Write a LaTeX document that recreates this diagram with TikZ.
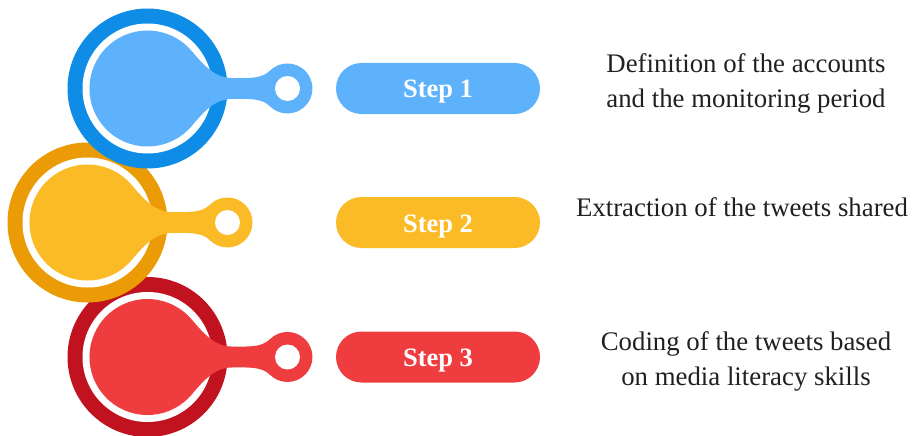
\documentclass[tikz,border=0pt]{standalone}
\usepackage{fontspec}
\setmainfont{Liberation Serif}
\definecolor{bluedark}{HTML}{0E8CE6}
\definecolor{bluelight}{HTML}{5EB2FB}
\definecolor{yellowdark}{HTML}{EB9B05}
\definecolor{yellowlight}{HTML}{FBBB26}
\definecolor{reddark}{HTML}{C1121F}
\definecolor{redlight}{HTML}{EE3C3F}
\definecolor{txt}{HTML}{231F20}
\tikzset{
  pics/lolli/.style 2 args={code={
    \fill[#1] (0,0) circle[radius=80];
    \fill[white] (0,0) circle[radius=65];
    \fill[#2] (44.4,37.3) arc[start angle=40, end angle=320, radius=58]
      .. controls (57.3,-22) and (68,-10.5) .. (84,-10.5)
      .. controls (100,-10.5) and (113.8,-9.2) .. (122.3,-17.7)
      arc[start angle=225, end angle=495, radius=25]
      .. controls (113.8,9.2) and (100,10.5) .. (84,10.5)
      .. controls (68,10.5) and (57.3,22) .. (44.4,37.3) -- cycle;
    \fill[white] (140,0) circle[radius=12.5];
  }},
  stepbox/.style={rounded corners=25.5pt, minimum width=204pt, minimum height=51pt,
    inner sep=0pt, text=white, text height=19pt, text depth=0pt,
    font=\fontsize{26.5}{30}\selectfont\bfseries},
  desc/.style={inner sep=0pt, text=txt, align=center,
    font=\fontsize{26.8}{35}\selectfont}
}
\begin{document}
\begin{tikzpicture}[x=1pt,y=-1pt]
\useasboundingbox (0,0) rectangle (919,436);
\coordinate (c3) at (147.5,357);
\coordinate (c2) at (87.5,222.5);
\coordinate (c1) at (147.5,88.5);
\pic at (c3) {lolli={reddark}{redlight}};
\pic at (c2) {lolli={yellowdark}{yellowlight}};
\pic at (c1) {lolli={bluedark}{bluelight}};
\node[stepbox, fill=bluelight] (s1) at (438,88.5) {Step 1};
\node[stepbox, fill=yellowlight] (s2) at (438,222.5) {Step 2};
\node[stepbox, fill=redlight] (s3) at (438,357) {Step 3};
\node[desc, anchor=north] (d1) at (746,53) {Definition of the accounts\\and the monitoring period};
\node[desc, anchor=base] (d2) at (742,216.7) {Extraction of the tweets shared};
\node[desc, anchor=north] (d3) at (746,331) {Coding of the tweets based\\on media literacy skills};
\end{tikzpicture}
\end{document}
